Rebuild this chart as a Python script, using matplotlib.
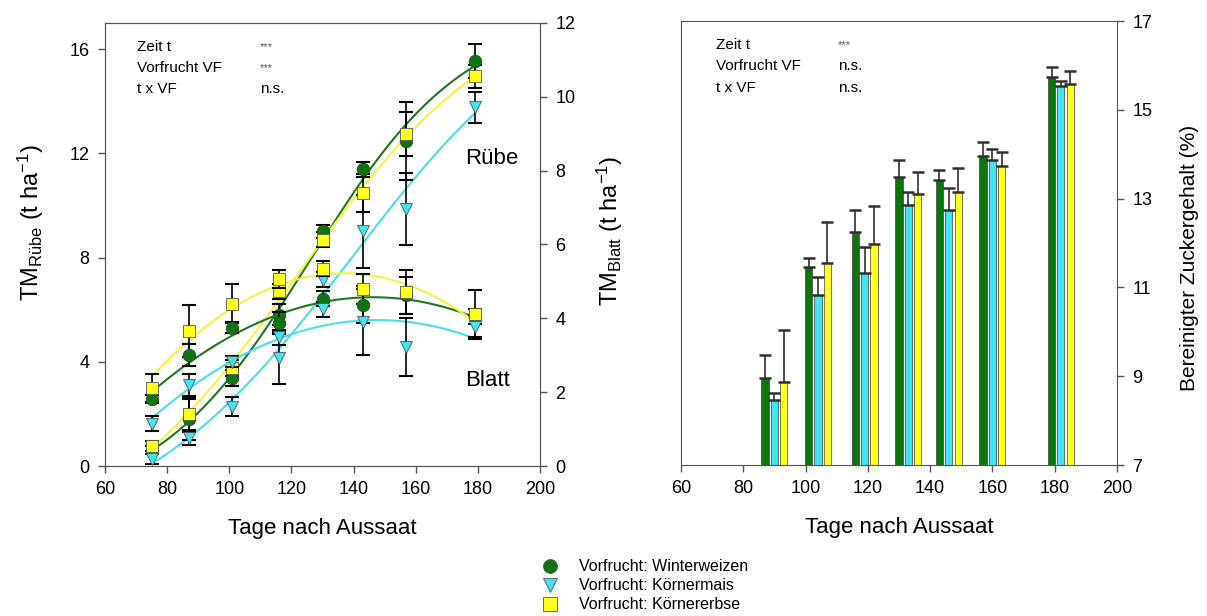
import numpy as np
import matplotlib
matplotlib.use("Agg")
import matplotlib.pyplot as plt
from matplotlib.lines import Line2D

plt.rcParams['font.family'] = ['Liberation Sans', 'DejaVu Sans']
plt.rcParams['mathtext.default'] = 'regular'

# Data - left panel (days after sowing)
days = np.array([75, 87, 101, 116, 130, 143, 157, 179])

# Ruebe dry matter (t/ha, left axis)
ruebe_ww = np.array([0.6, 1.8, 3.37, 5.8, 9.0, 11.38, 12.47, 15.55])
ruebe_km = np.array([0.26, 1.06, 2.28, 4.14, 7.15, 9.0, 9.85, 13.76])
ruebe_ke = np.array([0.77, 1.99, 3.76, 6.7, 8.69, 10.46, 12.73, 14.95])
ruebe_ww_err = np.array([0.15, 0.8, 0.3, 0.4, 0.25, 0.3, 1.5, 0.65])
ruebe_km_err = np.array([0.2, 0.25, 0.35, 1.0, 0.3, 1.4, 1.38, 0.6])
ruebe_ke_err = np.array([0.2, 0.6, 0.3, 0.3, 0.3, 0.73, 0.85, 0.45])

# Blatt dry matter (t/ha, right axis)
blatt_ww = np.array([1.81, 3.0, 3.75, 3.87, 4.53, 4.37, 4.62, 4.04])
blatt_km = np.array([1.15, 2.19, 2.82, 3.49, 4.24, 3.9, 3.22, 3.77])
blatt_ke = np.array([2.12, 3.65, 4.4, 5.06, 5.34, 4.8, 4.71, 4.13])
blatt_ww_err = np.array([0.1, 0.3, 0.15, 0.3, 0.2, 0.5, 0.5, 0.2])
blatt_km_err = np.array([0.2, 0.3, 0.15, 0.2, 0.2, 0.9, 0.78, 0.32])
blatt_ke_err = np.array([0.38, 0.7, 0.54, 0.25, 0.2, 0.4, 0.6, 0.63])

# Right panel - corrected sugar content (%)
bar_days = np.array([87, 101, 116, 130, 143, 157, 179])
zg_ww = np.array([8.97, 11.45, 12.26, 13.48, 13.41, 13.97, 15.73])
zg_km = np.array([8.47, 10.83, 11.32, 12.86, 12.75, 13.87, 15.53])
zg_ke = np.array([8.86, 11.56, 11.98, 13.11, 13.16, 13.74, 15.59])
zg_ww_err = np.array([0.51, 0.22, 0.49, 0.40, 0.23, 0.30, 0.24])
zg_km_err = np.array([0.16, 0.40, 0.60, 0.28, 0.48, 0.25, 0.13])
zg_ke_err = np.array([1.18, 0.91, 0.86, 0.50, 0.53, 0.32, 0.29])

labels = ['Vorfrucht: Winterweizen', 'Vorfrucht: Körnermais', 'Vorfrucht: Körnererbse']
c_green = '#0b760b'
c_cyan = '#3fe3f2'
c_yellow = '#ffff1a'
line_green = '#1c7a1c'
line_cyan = '#45e0ef'
line_yellow = '#f4f440'
markers = ['o', 'v', 's']


# sigmoid fit y = y0 + a / (1 + exp(-(x - x0) / b)), grid over x0, b
def sigmoid_fit(x, y, xs):
    best = None
    for x0 in np.linspace(100, 180, 81):
        for b in np.linspace(6, 40, 69):
            f = 1 / (1 + np.exp(-(x - x0) / b))
            A = np.column_stack([np.ones_like(f), f])
            coef, *_ = np.linalg.lstsq(A, y, rcond=None)
            r = np.sum((A @ coef - y) ** 2)
            if best is None or r < best[0]:
                best = (r, coef, x0, b)
    _, coef, x0, b = best
    return coef[0] + coef[1] / (1 + np.exp(-(xs - x0) / b))


fig = plt.figure(figsize=(12.07, 6.16), dpi=100)
ax1 = fig.add_axes([0.087, 0.2435, 0.3604, 0.7192])
ax1b = ax1.twinx()
ax2 = fig.add_axes([0.5642, 0.245, 0.3612, 0.7208])

x_fit = np.linspace(75, 179, 200)
ruebe = [(ruebe_ww, ruebe_ww_err), (ruebe_km, ruebe_km_err), (ruebe_ke, ruebe_ke_err)]
blatt = [(blatt_ww, blatt_ww_err), (blatt_km, blatt_km_err), (blatt_ke, blatt_ke_err)]
mcols = [c_green, c_cyan, c_yellow]
lcols = [line_green, line_cyan, line_yellow]

# fitted curves
for (y, e), (yb, eb), lc in zip(ruebe, blatt, lcols):
    ax1.plot(x_fit, sigmoid_fit(days, y, x_fit), color=lc, lw=1.5, zorder=2)
    ax1b.plot(x_fit, np.polyval(np.polyfit(days, yb, 2), x_fit), color=lc, lw=1.5, zorder=2)

for (y, e), (yb, eb), mc, m in zip(ruebe, blatt, mcols, markers):
    ax1.errorbar(days, y, yerr=e, fmt='none', ecolor='black', elinewidth=1.2, capsize=5, capthick=1.5, zorder=3)
    ax1b.errorbar(days, yb, yerr=eb, fmt='none', ecolor='black', elinewidth=1.2, capsize=5, capthick=1.5, zorder=3)
    ax1.plot(days, y, m, color=mc, mec='#2a4a2a' if m == 'o' else '#555555', mew=0.6, ms=9, zorder=4)
    ax1b.plot(days, yb, m, color=mc, mec='#2a4a2a' if m == 'o' else '#555555', mew=0.6, ms=9, zorder=4)

ax1.set_xlim(60, 200)
ax1.set_ylim(0, 17)
ax1b.set_ylim(0, 12)
ax1.set_xticks(range(60, 201, 20))
ax1.set_yticks([0, 4, 8, 12, 16])
ax1b.set_yticks(range(0, 13, 2))
ax1.set_xlabel('Tage nach Aussaat', fontsize=16, labelpad=14)
ax1.set_ylabel('TM$_{Rübe}$ (t ha$^{-1}$)', fontsize=17)
ax1.yaxis.set_label_coords(-0.135, 0.55)
ax1b.set_ylabel('TM$_{Blatt}$ (t ha$^{-1}$)', fontsize=17)
ax1b.yaxis.set_label_coords(1.125, 0.53)
ax1.text(176, 11.8, 'Rübe', fontsize=16, va='center')
ax1.text(176, 3.3, 'Blatt', fontsize=16, va='center')

stats_left = [('Zeit t', '***'), ('Vorfrucht VF', '***'), ('t x VF', 'n.s.')]
stats_right = [('Zeit t', '***'), ('Vorfrucht VF', 'n.s.'), ('t x VF', 'n.s.')]
for i, (a, b) in enumerate(stats_left):
    ax1.text(0.074, 0.946 - i * 0.048, a, transform=ax1.transAxes, fontsize=11, va='center')
    ax1.text(0.356, 0.946 - i * 0.048, b, transform=ax1.transAxes, fontsize=11 if b != '***' else 8,
             va='center', color='black' if b != '***' else '#555555')

# bar chart
bw = 2.3
for k, (vals, errs, col) in enumerate([(zg_ww, zg_ww_err, c_green), (zg_km, zg_km_err, c_cyan),
                                       (zg_ke, zg_ke_err, c_yellow)]):
    ax2.bar(bar_days + 3 * k, vals, width=bw, color=col, edgecolor='#404040', linewidth=0.5, zorder=2)
    ax2.errorbar(bar_days + 3 * k, vals, yerr=[np.zeros_like(errs), errs], fmt='none', ecolor='#303030',
                 elinewidth=1.2, capsize=4, capthick=1.8, zorder=3)

ax2.set_xlim(60, 200)
ax2.set_ylim(7, 17)
ax2.set_xticks(range(60, 201, 20))
ax2.set_yticks(range(7, 18, 2))
ax2.yaxis.tick_right()
ax2.yaxis.set_label_position('right')
ax2.set_xlabel('Tage nach Aussaat', fontsize=16, labelpad=14)
ax2.set_ylabel('Bereinigter Zuckergehalt (%)', fontsize=15)
ax2.yaxis.set_label_coords(1.145, 0.466)
for i, (a, b) in enumerate(stats_right):
    ax2.text(0.080, 0.946 - i * 0.048, a, transform=ax2.transAxes, fontsize=11, va='center')
    ax2.text(0.36, 0.946 - i * 0.048, b, transform=ax2.transAxes, fontsize=11 if b != '***' else 8,
             va='center', color='black' if b != '***' else '#555555')

for ax in [ax1, ax1b, ax2]:
    ax.tick_params(labelsize=13, length=5, width=1, color='#555555', pad=6)
    for s in ax.spines.values():
        s.set_color('#555555')

handles = [Line2D([], [], ls='none', marker=m, color=c, mec='#555555', mew=0.6, ms=10)
           for m, c in zip(markers, mcols)]
fig.legend(handles, labels, loc='upper left', bbox_to_anchor=(0.436, 0.105), frameon=False,
           fontsize=11.5, handletextpad=0.8, labelspacing=0.25, borderpad=0)

fig.savefig('out.png', dpi=100)
